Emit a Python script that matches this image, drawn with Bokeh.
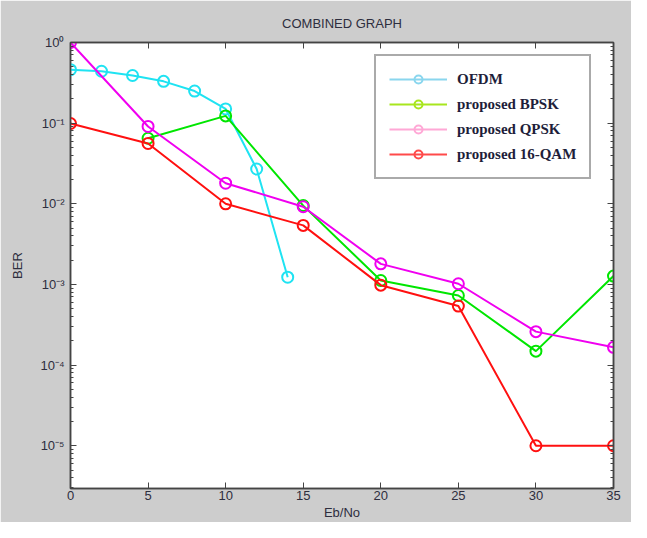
from bokeh.plotting import figure
from bokeh.models import (LinearAxis, LogAxis, FixedTicker, Legend, LegendItem,
                          CustomJSTickFormatter, Range1d)
from bokeh.embed import file_html
from bokeh.resources import INLINE

# ---- data ----
ofdm_x = [0, 2, 4, 6, 8, 10, 12, 14]
ofdm_ber = [0.46, 0.44, 0.39, 0.33, 0.25, 0.15, 0.027, 0.00123]
bpsk_x = [5, 10, 15, 20, 25, 30, 35]
bpsk_ber = [0.065, 0.123, 0.0095, 0.00112, 0.00073, 0.000149, 0.00127]
qpsk_x = [0, 5, 10, 15, 20, 25, 30, 35]
qpsk_ber = [1.0, 0.091, 0.018, 0.0092, 0.0018, 0.00102, 0.00026, 0.000166]
qam_x = [0, 5, 10, 15, 20, 25, 30, 35]
qam_ber = [0.099, 0.056, 0.010, 0.0054, 0.00098, 0.00054, 1e-5, 1e-5]

x_ticks = [0, 5, 10, 15, 20, 25, 30, 35]
y_major = [1e-5, 1e-4, 1e-3, 1e-2, 1e-1, 1e0]
y_minor = [m * 10.0 ** e for e in range(-6, 0) for m in range(2, 10)]

labels = ["OFDM", "proposed BPSK", "proposed QPSK", "proposed 16-QAM"]
line_colors = ["#1fe3f2", "#00e600", "#f000f0", "#ff1010"]
legend_colors = ["#8ad6ee", "#a8e61e", "#ffa8d6", "#ff4a4a"]

BG = "#cdcdcd"
AX = "#444444"
TXT = "#2e2e3e"
FONT = "Liberation Sans"

p = figure(width=631, height=522, output_backend="svg", toolbar_location=None,
           x_range=Range1d(0, 35), y_range=Range1d(10 ** -5.53, 1.0),
           y_axis_type="log",
           min_border_left=70, min_border_right=18, min_border_top=42,
           min_border_bottom=30)
p.background_fill_color = "white"
p.border_fill_color = BG
p.outline_line_color = AX
p.outline_line_width = 1.5
p.xgrid.visible = False
p.ygrid.visible = False

p.title.text = "COMBINED GRAPH"
p.title.align = "center"
p.title.text_font = FONT
p.title.text_font_size = "13px"
p.title.text_font_style = "normal"
p.title.text_color = TXT
p.title.standoff = 23

sup = CustomJSTickFormatter(code="""
const m = {'0':'\u2070','1':'\u00b9','2':'\u00b2','3':'\u00b3','4':'\u2074','5':'\u2075',
           '6':'\u2076','7':'\u2077','8':'\u2078','9':'\u2079','-':'\u207b'};
const e = Math.round(Math.log10(tick));
return '10' + String(e).split('').map(c => m[c]).join('');
""")
blank = CustomJSTickFormatter(code="return '';")

def style_axis(ax):
    ax.axis_line_color = AX
    ax.axis_line_width = 1.5
    ax.major_tick_line_color = AX
    ax.minor_tick_line_color = AX
    ax.major_tick_in = 6
    ax.major_tick_out = 0
    ax.minor_tick_in = 3
    ax.minor_tick_out = 0
    ax.major_label_text_font = FONT
    ax.major_label_text_font_size = "13px"
    ax.major_label_text_color = TXT
    ax.axis_label_text_font = FONT
    ax.axis_label_text_font_size = "13px"
    ax.axis_label_text_font_style = "normal"
    ax.axis_label_text_color = TXT

xax = p.xaxis[0]
xax.ticker = FixedTicker(ticks=x_ticks)
xax.axis_label = "Eb/No"
style_axis(xax)
xax.major_label_standoff = 2
xax.axis_label_standoff = 2

yax = p.yaxis[0]
yax.ticker = FixedTicker(ticks=y_major, minor_ticks=y_minor)
yax.formatter = sup
yax.axis_label = "BER"
style_axis(yax)
yax.major_label_standoff = 6
yax.axis_label_standoff = 12

top = LinearAxis(ticker=FixedTicker(ticks=x_ticks), formatter=blank)
style_axis(top)
top.major_label_standoff = 0
p.add_layout(top, "above")

right = LogAxis(ticker=FixedTicker(ticks=y_major, minor_ticks=y_minor), formatter=blank)
style_axis(right)
right.major_label_standoff = 0
p.add_layout(right, "right")

series = [(ofdm_x, ofdm_ber), (bpsk_x, bpsk_ber), (qpsk_x, qpsk_ber), (qam_x, qam_ber)]
for (xs, ys), c in zip(series, line_colors):
    p.line(xs, ys, line_color=c, line_width=2)
    p.scatter(xs, ys, marker="circle", size=11, fill_color=None,
              line_color=c, line_width=2)

# legend-only renderers (lighter colours as in the reference legend)
nan = float("nan")
items = []
for lab, c in zip(labels, legend_colors):
    r1 = p.line([nan], [nan], line_color=c, line_width=2)
    r2 = p.scatter([nan], [nan], marker="circle", size=11, fill_color=None,
                   line_color=c, line_width=2)
    items.append(LegendItem(label=lab, renderers=[r1, r2]))

legend = Legend(items=items, location=(304, 309))
legend.label_text_font = "Liberation Serif"
legend.label_text_font_size = "15px"
legend.label_text_font_style = "bold"
legend.label_text_color = "#1e1e3a"
legend.glyph_width = 58
legend.glyph_height = 20
legend.label_height = 20
legend.spacing = 5
legend.padding = 13
legend.margin = 0
legend.label_standoff = 10
legend.border_line_color = "#555555"
legend.border_line_width = 2
legend.background_fill_color = "white"
legend.background_fill_alpha = 1.0
p.add_layout(legend)

open("out.html", "w").write(file_html(p, INLINE))
